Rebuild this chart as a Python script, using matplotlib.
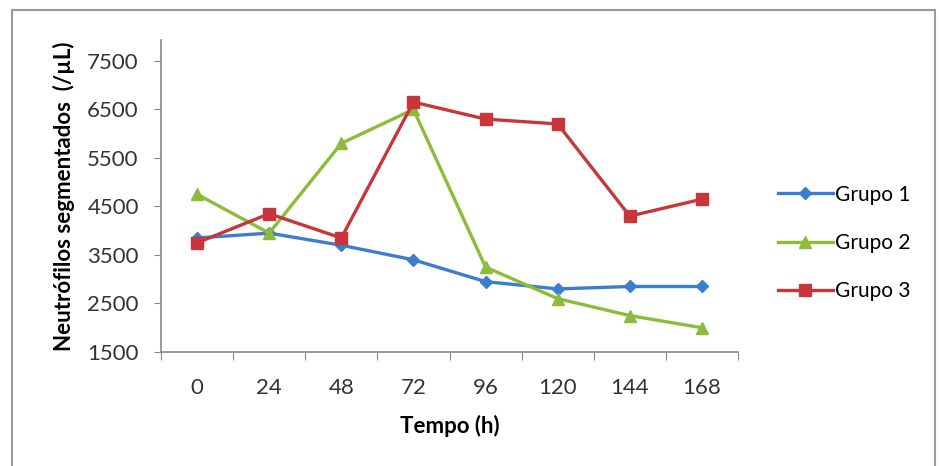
import numpy as np
import matplotlib
matplotlib.use("Agg")
import matplotlib.pyplot as plt
import matplotlib.patches as mpatches

plt.rcParams['font.family'] = ['Lato', 'DejaVu Sans']

# data
tempos = ["0", "24", "48", "72", "96", "120", "144", "168"]
grupo1 = [3850, 3950, 3700, 3400, 2950, 2800, 2850, 2850]
grupo2 = [4750, 3950, 5800, 6500, 3250, 2600, 2250, 2000]
grupo3 = [3750, 4350, 3850, 6650, 6300, 6200, 4300, 4650]
y_ticks = [1500, 2500, 3500, 4500, 5500, 6500, 7500]

fig = plt.figure(figsize=(9.39, 4.66), dpi=100)

# outer chart frame
fig.patches.append(mpatches.Rectangle((12 / 939, -0.01), (935 - 12) / 939, (466 - 10) / 466 + 0.01,
                                      transform=fig.transFigure, fill=False,
                                      edgecolor='#9a9a9a', linewidth=1.5))

ax = fig.add_axes([161 / 939, (466 - 352) / 466, (738 - 161) / 939, (352 - 40) / 466])

x = np.arange(len(tempos))
ax.plot(x, grupo1, color='#3B7DD0', linewidth=2.4, marker='D', markersize=6.5, label='Grupo 1')
ax.plot(x, grupo2, color='#8DBB3A', linewidth=2.4, marker='^', markersize=8.5, label='Grupo 2')
ax.plot(x, grupo3, color='#C8363A', linewidth=2.4, marker='s', markersize=8.5, label='Grupo 3')

ax.set_xlim(-0.5, len(tempos) - 0.5)
ax.set_ylim(1500, 7930)

ax.set_xticks(np.arange(-0.5, len(tempos), 1.0))
ax.set_xticklabels([])
ax.set_xticks(x, minor=True)
ax.set_xticklabels(tempos, minor=True)
ax.tick_params(axis='x', which='major', length=6, direction='out', color='#888888')
ax.tick_params(axis='x', which='minor', length=0, pad=19, labelsize=16, labelcolor='#333333')

ax.set_yticks(y_ticks)
ax.tick_params(axis='y', length=5, direction='out', color='#888888', labelsize=16,
               labelcolor='#333333', pad=11)

for s in ['top', 'right']:
    ax.spines[s].set_visible(False)
for s in ['left', 'bottom']:
    ax.spines[s].set_color('#888888')
    ax.spines[s].set_linewidth(1.2)

ax.set_xlabel("Tempo (h)", fontsize=16, fontweight='bold', labelpad=12)
ax.set_ylabel("Neutrófilos segmentados  (/µL)", fontsize=16, fontweight='bold', labelpad=9)

ax.legend(loc='center left', bbox_to_anchor=(1.07, 0.35), frameon=False, fontsize=15,
          handlelength=2.6, handletextpad=0.1, labelspacing=1.35, borderaxespad=0,
          borderpad=0)

fig.savefig("out.png", dpi=100)
